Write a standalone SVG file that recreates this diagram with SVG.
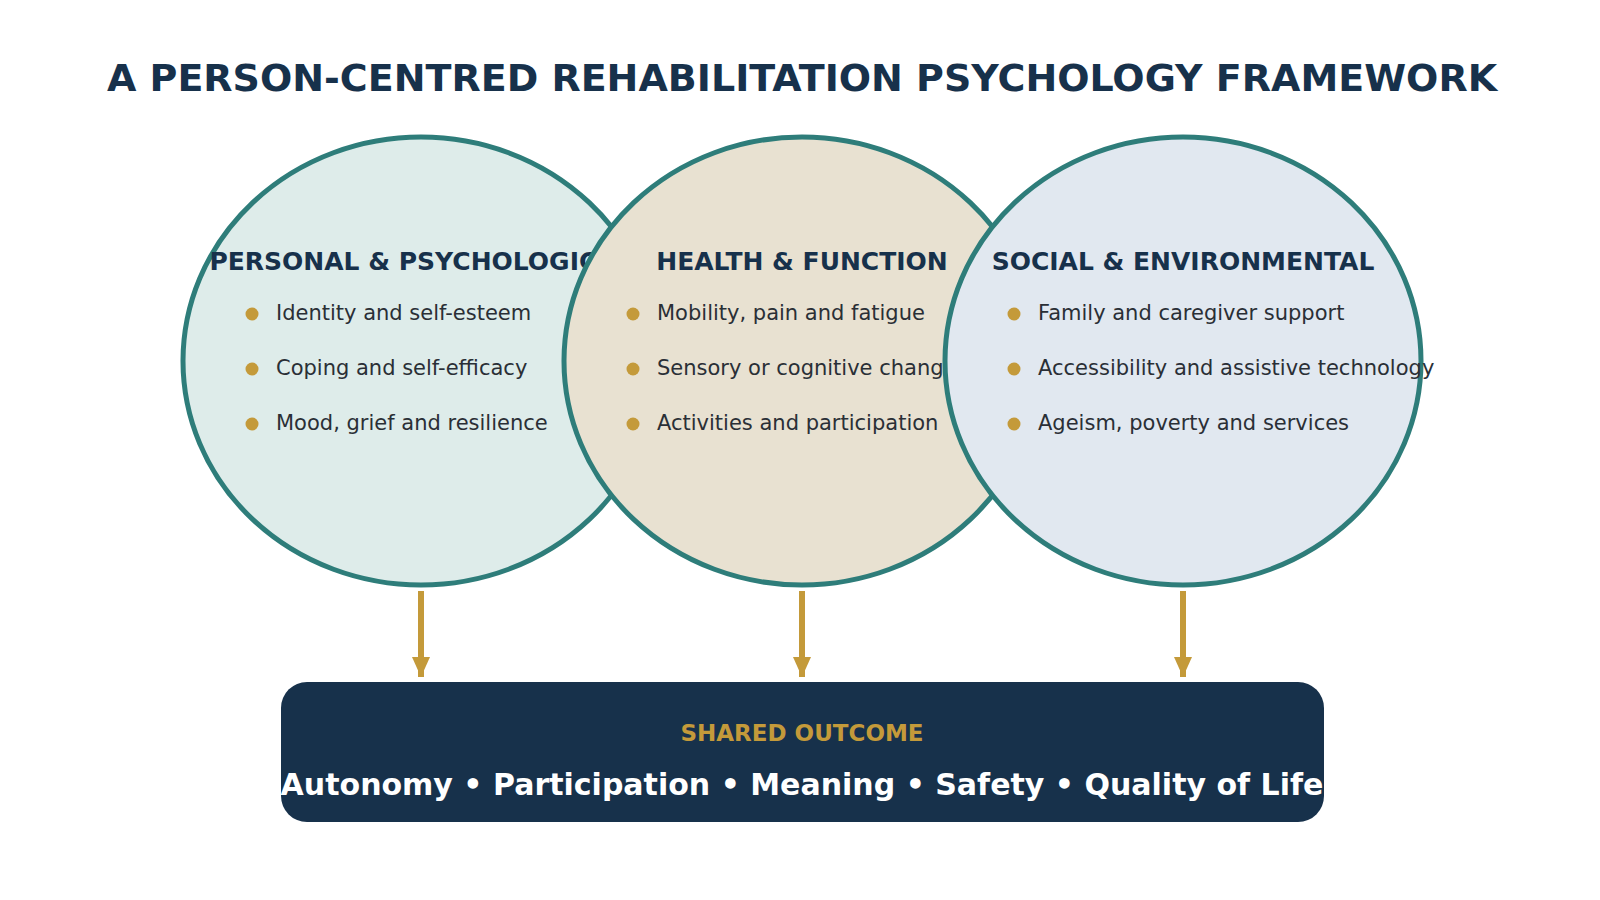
<svg xmlns="http://www.w3.org/2000/svg" width="1600" height="900" viewBox="0 0 1600 900">
<style>
.t{font-family:"DejaVu Sans",sans-serif;font-weight:bold;fill:#17314b;text-anchor:middle}
.c{stroke:#2e7d7a;stroke-width:5}
.h{font-family:"DejaVu Sans",sans-serif;font-weight:bold;font-size:25px;fill:#17314b;text-anchor:middle}
.b{font-family:"DejaVu Sans",sans-serif;font-size:21px;fill:#2a2f36}
.d{fill:#c49a3a}
</style>
<defs><marker id="a" markerWidth="20" markerHeight="18" refX="20" refY="9" orient="auto" markerUnits="userSpaceOnUse"><path d="M0,0L20,9L0,18Z" fill="#c49a3a"/></marker></defs>
<rect width="1600" height="900" fill="#fff"/>
<text class="t" x="802" y="91" font-size="38">A PERSON-CENTRED REHABILITATION PSYCHOLOGY FRAMEWORK</text>
<g id="personal">
<ellipse class="c" cx="421" cy="361" rx="238" ry="224" fill="#deecea"/>
<text class="h" x="421" y="270">PERSONAL &amp; PSYCHOLOGICAL</text>
<circle class="d" cx="252" cy="314" r="6.5"/><text class="b" x="276" y="320">Identity and self-esteem</text>
<circle class="d" cx="252" cy="369" r="6.5"/><text class="b" x="276" y="375">Coping and self-efficacy</text>
<circle class="d" cx="252" cy="424" r="6.5"/><text class="b" x="276" y="430">Mood, grief and resilience</text>
</g>
<g id="health">
<ellipse class="c" cx="802" cy="361" rx="238" ry="224" fill="#e8e1d1"/>
<text class="h" x="802" y="270">HEALTH &amp; FUNCTION</text>
<circle class="d" cx="633" cy="314" r="6.5"/><text class="b" x="657" y="320">Mobility, pain and fatigue</text>
<circle class="d" cx="633" cy="369" r="6.5"/><text class="b" x="657" y="375">Sensory or cognitive change</text>
<circle class="d" cx="633" cy="424" r="6.5"/><text class="b" x="657" y="430">Activities and participation</text>
</g>
<g id="social">
<ellipse class="c" cx="1183" cy="361" rx="238" ry="224" fill="#e1e8f0"/>
<text class="h" x="1183" y="270">SOCIAL &amp; ENVIRONMENTAL</text>
<circle class="d" cx="1014" cy="314" r="6.5"/><text class="b" x="1038" y="320">Family and caregiver support</text>
<circle class="d" cx="1014" cy="369" r="6.5"/><text class="b" x="1038" y="375">Accessibility and assistive technology</text>
<circle class="d" cx="1014" cy="424" r="6.5"/><text class="b" x="1038" y="430">Ageism, poverty and services</text>
</g>
<g id="connectors" stroke="#c49a3a" stroke-width="6">
<line x1="421" y1="591" x2="421" y2="677" marker-end="url(#a)"/>
<line x1="802" y1="591" x2="802" y2="677" marker-end="url(#a)"/>
<line x1="1183" y1="591" x2="1183" y2="677" marker-end="url(#a)"/>
</g>
<g id="outcome">
<rect x="281" y="682" width="1043" height="140" rx="26" fill="#17314b"/>
<text class="t" x="802" y="741" font-size="23" style="fill:#c49a3a">SHARED OUTCOME</text>
<text class="t" x="802" y="795" font-size="30" style="fill:#fff">Autonomy • Participation • Meaning • Safety • Quality of Life</text>
</g>
</svg>
